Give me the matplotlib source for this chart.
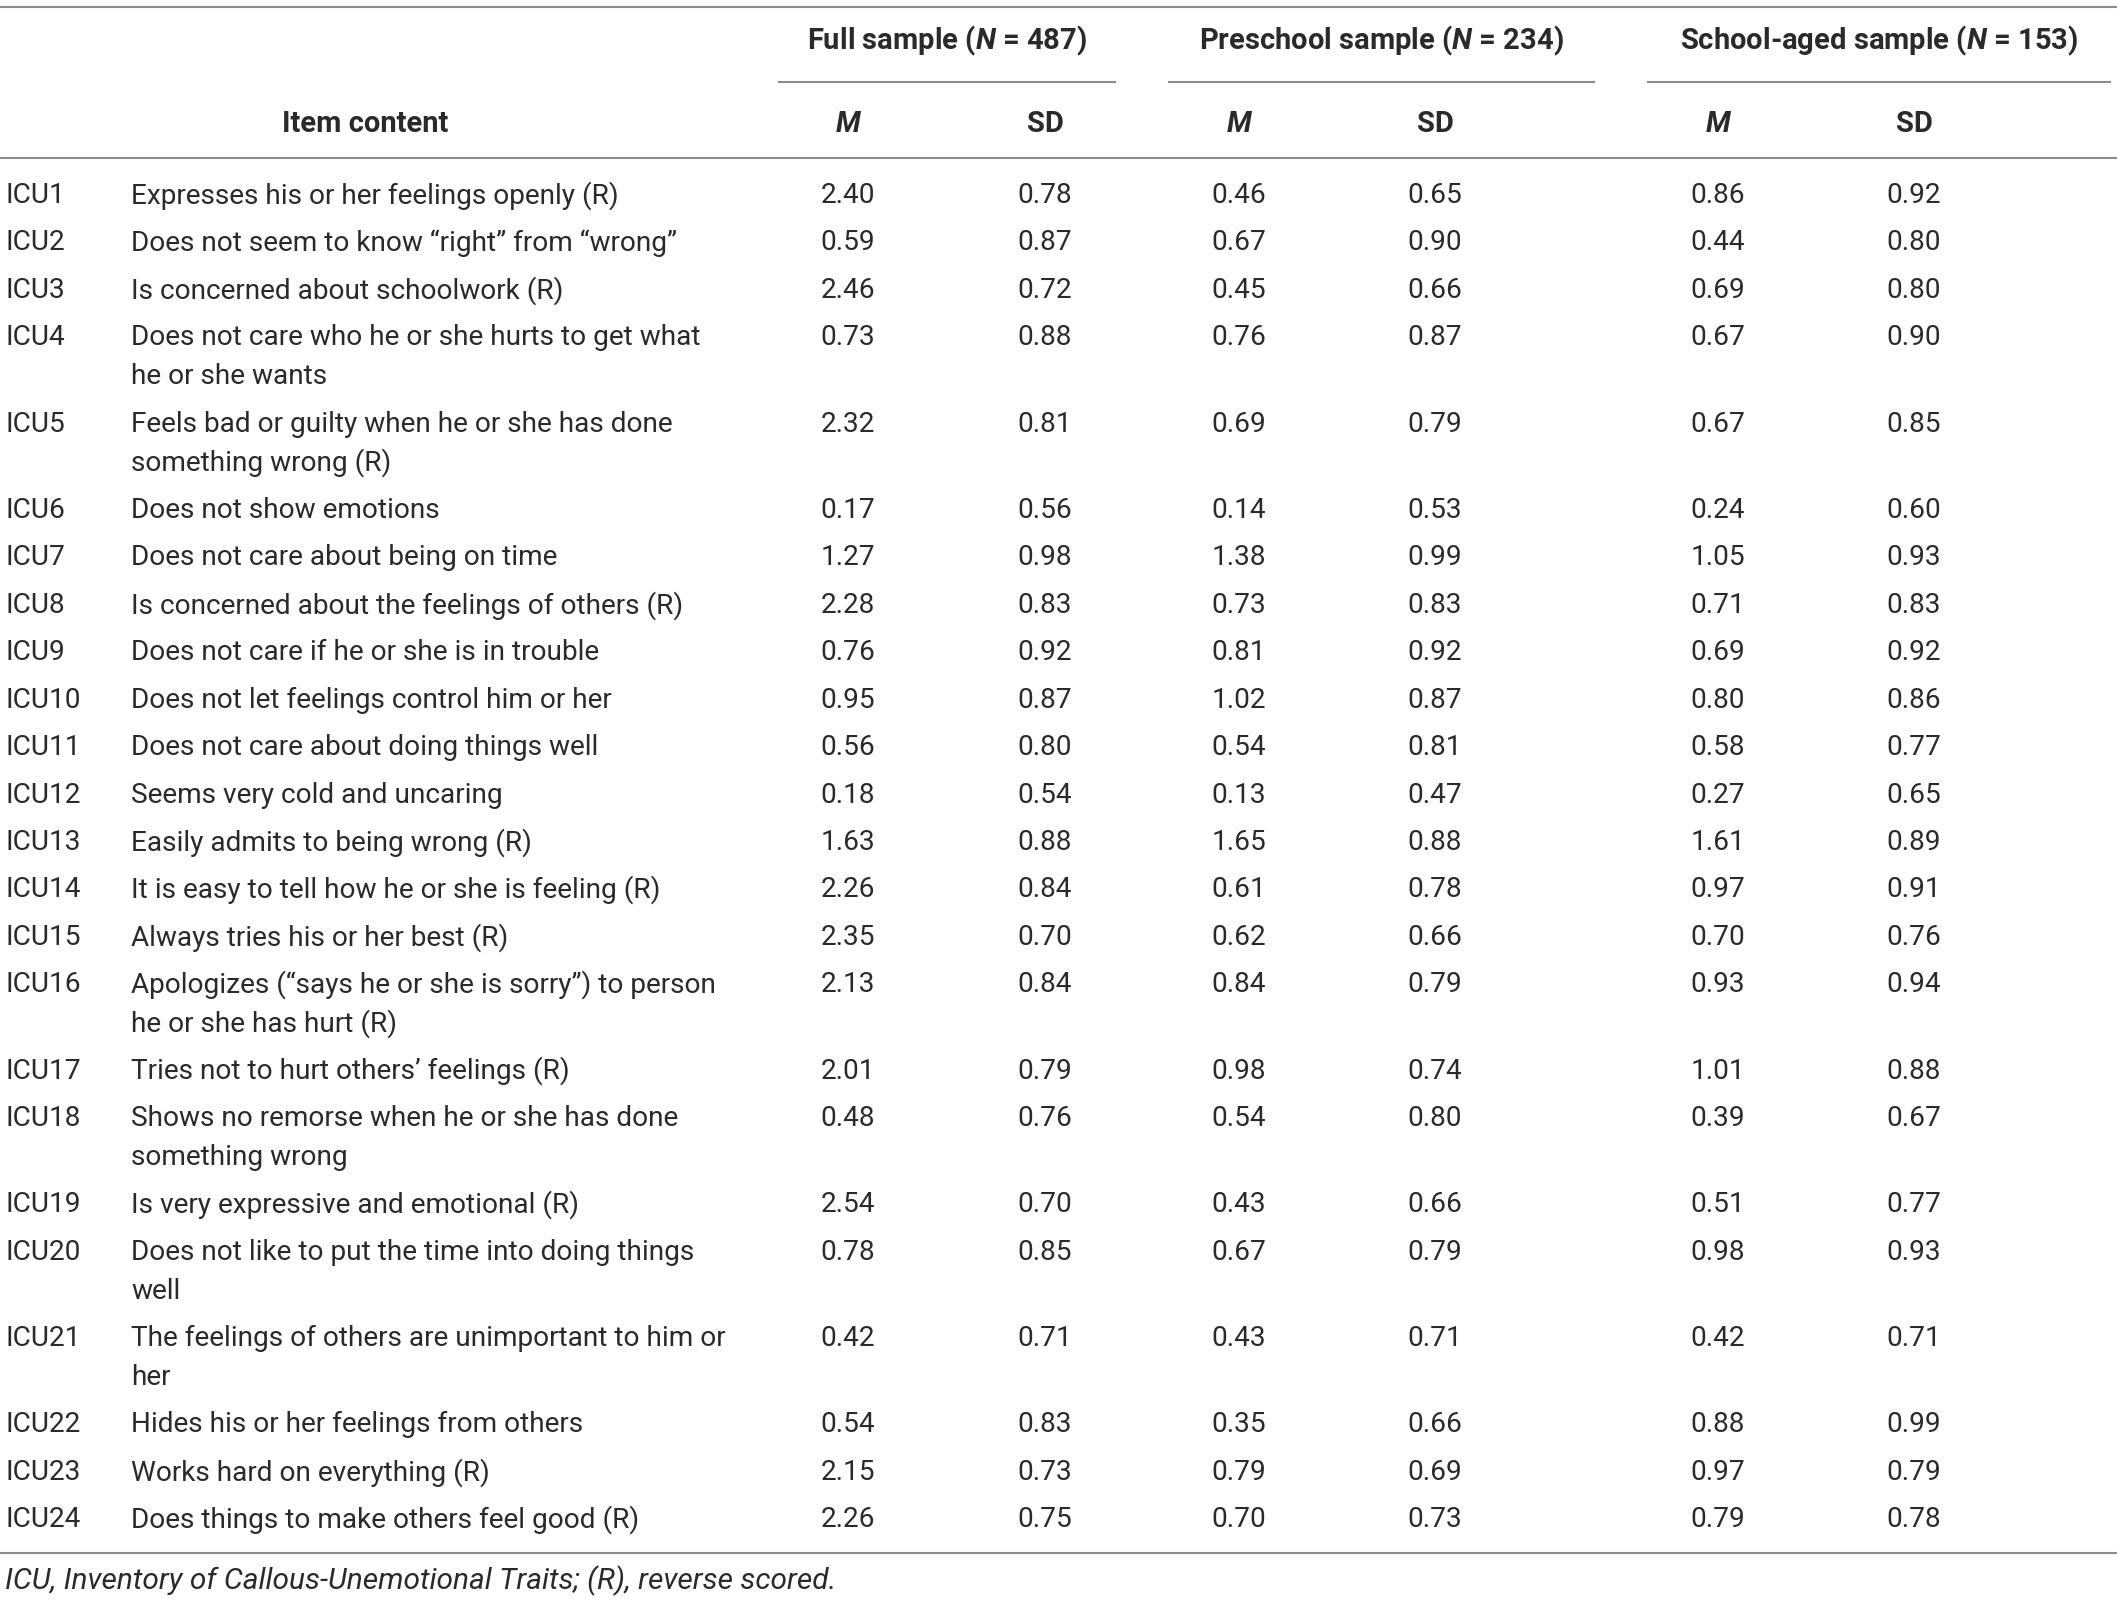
import matplotlib
matplotlib.use("Agg")
import matplotlib.pyplot as plt

# donnees du tableau (ICU, moyennes et ecarts-types)
codes = ["ICU%d" % i for i in range(1, 25)]
items = [
    "Expresses his or her feelings openly (R)",
    "Does not seem to know \u201cright\u201d from \u201cwrong\u201d",
    "Is concerned about schoolwork (R)",
    "Does not care who he or she hurts to get what\nhe or she wants",
    "Feels bad or guilty when he or she has done\nsomething wrong (R)",
    "Does not show emotions",
    "Does not care about being on time",
    "Is concerned about the feelings of others (R)",
    "Does not care if he or she is in trouble",
    "Does not let feelings control him or her",
    "Does not care about doing things well",
    "Seems very cold and uncaring",
    "Easily admits to being wrong (R)",
    "It is easy to tell how he or she is feeling (R)",
    "Always tries his or her best (R)",
    "Apologizes (\u201csays he or she is sorry\u201d) to person\nhe or she has hurt (R)",
    "Tries not to hurt others\u2019 feelings (R)",
    "Shows no remorse when he or she has done\nsomething wrong",
    "Is very expressive and emotional (R)",
    "Does not like to put the time into doing things\nwell",
    "The feelings of others are unimportant to him or\nher",
    "Hides his or her feelings from others",
    "Works hard on everything (R)",
    "Does things to make others feel good (R)",
]
full_m = [2.40, 0.59, 2.46, 0.73, 2.32, 0.17, 1.27, 2.28, 0.76, 0.95, 0.56, 0.18,
          1.63, 2.26, 2.35, 2.13, 2.01, 0.48, 2.54, 0.78, 0.42, 0.54, 2.15, 2.26]
full_sd = [0.78, 0.87, 0.72, 0.88, 0.81, 0.56, 0.98, 0.83, 0.92, 0.87, 0.80, 0.54,
           0.88, 0.84, 0.70, 0.84, 0.79, 0.76, 0.70, 0.85, 0.71, 0.83, 0.73, 0.75]
pre_m = [0.46, 0.67, 0.45, 0.76, 0.69, 0.14, 1.38, 0.73, 0.81, 1.02, 0.54, 0.13,
         1.65, 0.61, 0.62, 0.84, 0.98, 0.54, 0.43, 0.67, 0.43, 0.35, 0.79, 0.70]
pre_sd = [0.65, 0.90, 0.66, 0.87, 0.79, 0.53, 0.99, 0.83, 0.92, 0.87, 0.81, 0.47,
          0.88, 0.78, 0.66, 0.79, 0.74, 0.80, 0.66, 0.79, 0.71, 0.66, 0.69, 0.73]
sch_m = [0.86, 0.44, 0.69, 0.67, 0.67, 0.24, 1.05, 0.71, 0.69, 0.80, 0.58, 0.27,
         1.61, 0.97, 0.70, 0.93, 1.01, 0.39, 0.51, 0.98, 0.42, 0.88, 0.97, 0.79]
sch_sd = [0.92, 0.80, 0.80, 0.90, 0.85, 0.60, 0.93, 0.83, 0.92, 0.86, 0.77, 0.65,
          0.89, 0.91, 0.76, 0.94, 0.88, 0.67, 0.77, 0.93, 0.71, 0.99, 0.79, 0.78]

groups = ["Full sample", "Preschool sample", "School-aged sample"]
group_n = [487, 234, 153]
footnote = "ICU, Inventory of Callous-Unemotional Traits; (R), reverse scored."

# mise en page (en pixels)
W, H = 2117, 1603
plt.rcParams["font.family"] = ["Roboto", "DejaVu Sans"]
plt.rcParams["mathtext.fontset"] = "custom"
plt.rcParams["mathtext.bfit"] = "Roboto:italic:bold"
plt.rcParams["mathtext.it"] = "Roboto:italic"

fig = plt.figure(figsize=(W / 100, H / 100), dpi=100)
ax = fig.add_axes([0, 0, 1, 1])
ax.set_xlim(0, W)
ax.set_ylim(H, 0)
ax.axis("off")

txt = "#2a2a2a"
line_c = "#8c8c8c"
fs = 20.2
fs_h = 21
body_w = "normal"

col_x = [848, 1045, 1239, 1435, 1718, 1914]
group_x = [(779, 1115), (1169, 1594), (1648, 2110)]

ax.plot([0, W], [7, 7], color=line_c, lw=1.5)
for (a, b), g, n in zip(group_x, groups, group_n):
    ax.text((a + b) / 2, 41, g + r" ($\mathbfit{N}$ = %d)" % n, ha="center", va="center",
            fontsize=fs_h, fontweight="bold", color=txt)
    ax.plot([a, b], [82, 82], color=line_c, lw=1.5)

ax.text(365, 124, "Item content", ha="center", va="center", fontsize=fs_h,
        fontweight="bold", color=txt)
for i, x in enumerate(col_x):
    if i % 2 == 0:
        ax.text(x, 124, "M", ha="center", va="center", fontsize=fs_h,
                fontweight="bold", fontstyle="italic", color=txt)
    else:
        ax.text(x, 124, "SD", ha="center", va="center", fontsize=fs_h,
                fontweight="bold", color=txt)
ax.plot([0, W], [158, 158], color=line_c, lw=1.5)

y = 195.5
step = 47.45
extra = 38.8
cols = [full_m, full_sd, pre_m, pre_sd, sch_m, sch_sd]
for k in range(len(codes)):
    ax.text(5, y, codes[k], ha="left", va="center", fontsize=fs,
            fontweight=body_w, color=txt)
    lines = items[k].split("\n")
    for j, l in enumerate(lines):
        ax.text(131, y + j * extra, l, ha="left", va="center", fontsize=fs,
                fontweight=body_w, color=txt)
    for x, c in zip(col_x, cols):
        ax.text(x, y, "%.2f" % c[k], ha="center", va="center", fontsize=fs,
                fontweight=body_w, color=txt)
    y += step + (len(lines) - 1) * extra

ax.plot([0, W], [1553, 1553], color=line_c, lw=1.5)
ax.text(5, 1581, footnote, ha="left", va="center", fontsize=21.5,
        fontweight=body_w, fontstyle="italic", color=txt)

fig.savefig("out.png", dpi=100)
